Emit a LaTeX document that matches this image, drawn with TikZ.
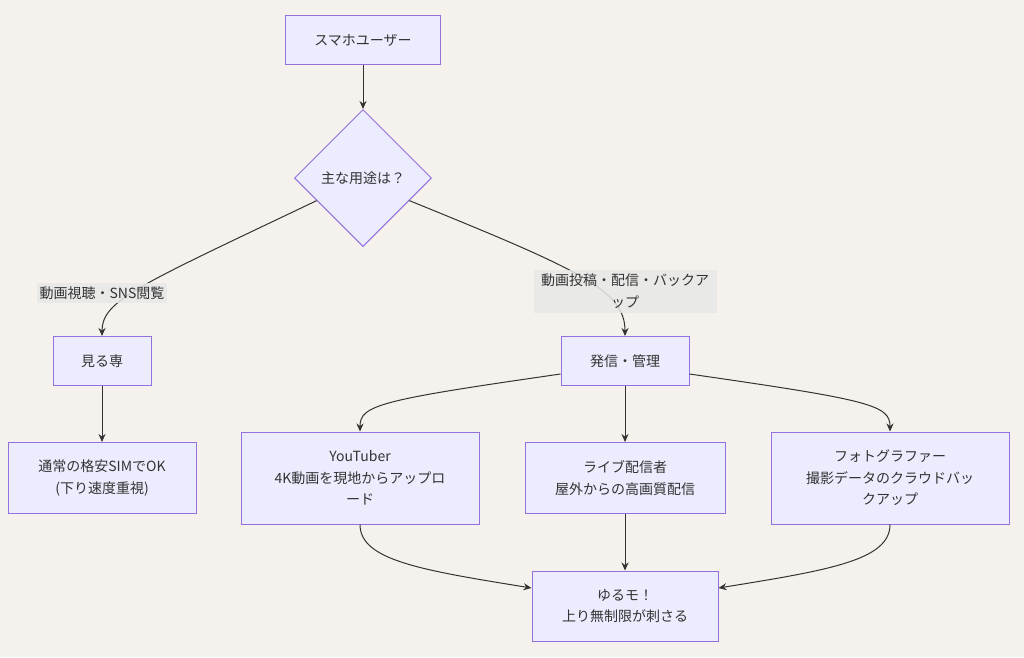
\documentclass[tikz,border=0pt]{standalone}
\usepackage{fontspec}
\setmainfont{Noto Sans CJK JP}
\usepackage{tikz}
\usetikzlibrary{arrows.meta}
\usetikzlibrary{shapes.geometric}
\definecolor{page-bg}{RGB}{245,242,237}
\definecolor{box-fill}{RGB}{236,236,255}
\definecolor{box-line}{RGB}{147,112,219}
\definecolor{ink}{RGB}{51,51,51}
\definecolor{label-bg}{RGB}{232,232,232}
\tikzstyle{box}=[draw=box-line, fill=box-fill, line width=1pt, text=ink, align=center, inner sep=0pt]
\tikzstyle{choice}=[box, diamond, aspect=1, minimum width=137pt, minimum height=137pt]
\tikzstyle{edgelabel}=[fill=label-bg, fill opacity=0.85, text opacity=1, text=ink, align=center, inner sep=0pt]
\tikzstyle{flow}=[draw=ink, line width=1pt, -{Stealth[length=8pt,width=7pt]}]

\begin{document}
\begin{tikzpicture}[x=1pt,y=-1pt,font=\fontsize{14}{21.5}\selectfont]
	\fill[page-bg] (0,0) rectangle (1024,657);
	% nodes
	\node[box, minimum width=155pt, minimum height=49pt] (user) at (363,40) {スマホユーザー};
	\node[choice] (use) at (363,178) {主な用途は？};
	\node[box, minimum width=98pt, minimum height=49pt] (view) at (102,361) {見る専};
	\node[box, minimum width=188pt, minimum height=71pt] (sim) at (102,478) {通常の格安SIMでOK\\(下り速度重視)};
	\node[box, minimum width=128pt, minimum height=49pt] (send) at (625,361) {発信・管理};
	\node[box, minimum width=238pt, minimum height=92pt] (tuber) at (360,478) {YouTuber\\4K動画を現地からアップロ\\ード};
	\node[box, minimum width=200pt, minimum height=71pt] (live) at (625,478) {ライブ配信者\\屋外からの高画質配信};
	\node[box, minimum width=238pt, minimum height=92pt] (photo) at (890,478) {フォトグラファー\\撮影データのクラウドバッ\\クアップ};
	\node[box, minimum width=186pt, minimum height=70pt] (yurumo) at (625,606) {ゆるモ！\\上り無制限が刺さる};
	% connectors
	\draw[flow] (user) -- (use);
	\draw[flow] (use.206) .. controls (140,285) and (102,300) .. (view.north);
	\draw[flow] (use.334) .. controls (580,270) and (625,290) .. (send.north);
	\draw[flow] (view) -- (sim);
	\draw[flow] ([yshift=-13pt]send.west) .. controls (380,400) and (360,405) .. (tuber.north);
	\draw[flow] (send) -- (live);
	\draw[flow] ([yshift=-13pt]send.east) .. controls (870,400) and (890,405) .. (photo.north);
	\draw[flow] (tuber.south) .. controls (360,560) and (420,570) .. ([yshift=18pt]yurumo.west);
	\draw[flow] (live) -- (yurumo);
	\draw[flow] (photo.south) .. controls (890,560) and (830,570) .. ([yshift=18pt]yurumo.east);
	% edge labels
	\node[edgelabel, minimum width=130pt, minimum height=20pt] (lview) at (102,293) {動画視聴・SNS閲覧};
	\node[edgelabel, minimum width=183pt, minimum height=43pt] (lsend) at (625,291) {動画投稿・配信・バックア\\ップ};
\end{tikzpicture}
\end{document}
